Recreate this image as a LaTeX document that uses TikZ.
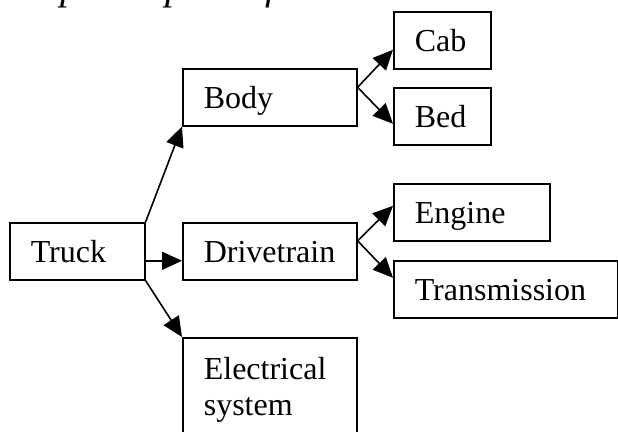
\documentclass[tikz,border=0pt]{standalone}
\usepackage{fontspec}
\setmainfont{Liberation Serif}
\usetikzlibrary{arrows.meta}

\tikzset{
  part/.style={draw,line width=1.6pt,anchor=north west,align=left,
    inner xsep=21pt,font=\fontsize{32}{36}\selectfont},
  leaf/.style={part,inner ysep=0pt,minimum height=57pt,
    text height=22pt,text depth=0pt},
  link/.style={line width=1.6pt,-{Triangle[length=20pt,width=18pt]}}
}

\begin{document}
\begin{tikzpicture}[x=1pt,y=1pt]
  \useasboundingbox (0,0) rectangle (618,431);
  % Caption, mostly cut off at the top
  \node[anchor=south west,inner sep=0pt,font=\fontsize{40}{44}\selectfont\itshape]
    (caption) at (-31,423) {Example: a part-of structure};
  % Root
  \node[leaf,text width=93pt] (truck) at (9,209) {Truck};
  % Second level
  \node[leaf,text width=132pt] (body) at (182,363) {Body};
  \node[leaf,text width=132pt] (drive) at (182,209) {Drivetrain};
  \node[part,text width=132pt,inner ysep=19pt] (elec) at (182,94) {Electrical\\system};
  % Third level
  \node[leaf,text width=55pt] (cab) at (393,420) {Cab};
  \node[leaf,text width=55pt] (bed) at (393,344) {Bed};
  \node[leaf,text width=114pt] (engine) at (393,248) {Engine};
  \node[leaf,text width=182pt] (trans) at (393,171) {Transmission};
  % Arrows
  \draw[link] (truck.north east) -- (body.south west);
  \draw[link] ([yshift=-9.5pt]truck.east) -- ([yshift=-9.5pt]drive.west);
  \draw[link] (truck.south east) -- (elec.north west);
  \draw[link] ([yshift=10pt]body.east) -- ([yshift=-9.5pt]cab.west);
  \draw[link] ([yshift=10pt]body.east) -- ([yshift=-7.5pt]bed.west);
  \draw[link] ([yshift=10.5pt]drive.east) -- ([yshift=6.5pt]engine.west);
  \draw[link] ([yshift=10.5pt]drive.east) -- ([yshift=11.5pt]trans.west);
\end{tikzpicture}
\end{document}
